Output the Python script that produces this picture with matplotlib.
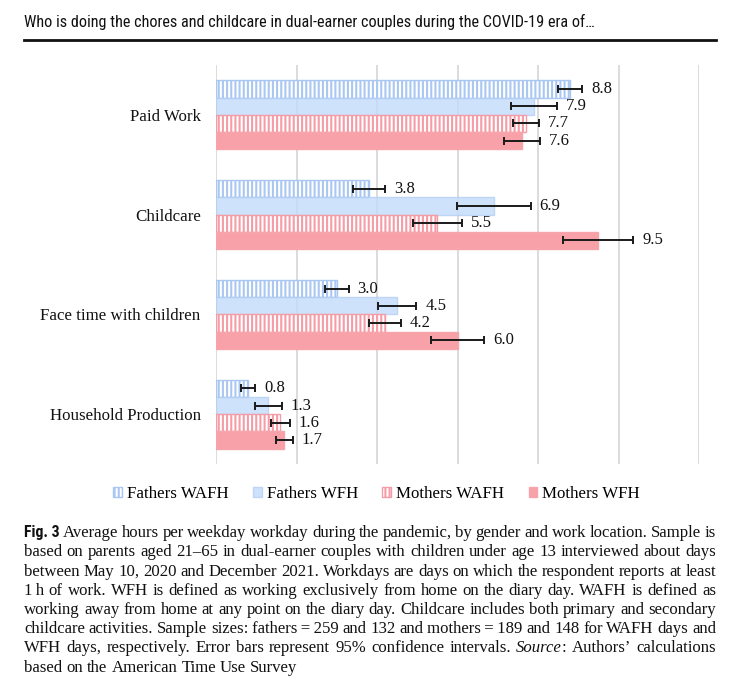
import matplotlib
matplotlib.use("Agg")
import matplotlib.pyplot as plt
from matplotlib.patches import Patch
from matplotlib import font_manager
import numpy as np

# ---------------- data ----------------
categories = ["Paid Work", "Childcare", "Face time with children", "Household Production"]
series_names = ["Fathers WAFH", "Fathers WFH", "Mothers WAFH", "Mothers WFH"]

fathers_wafh = [8.8, 3.8, 3.0, 0.8]
fathers_wfh = [7.9, 6.9, 4.5, 1.3]
mothers_wafh = [7.7, 5.5, 4.2, 1.6]
mothers_wfh = [7.6, 9.5, 6.0, 1.7]

fathers_wafh_ci = [0.30, 0.40, 0.30, 0.18]
fathers_wfh_ci = [0.57, 0.92, 0.48, 0.34]
mothers_wafh_ci = [0.33, 0.61, 0.40, 0.23]
mothers_wfh_ci = [0.44, 0.87, 0.67, 0.21]

x_ticks = [0, 2, 4, 6, 8, 10, 12]

header_text = "Who is doing the chores and childcare in dual-earner couples during the COVID-19 era of\u2026"

caption_lines = [
    "Fig. 3| Average hours per weekday workday during the pandemic, by gender and work location. Sample is",
    "based on parents aged 21\u201365 in dual-earner couples with children under age 13 interviewed about days",
    "between May 10, 2020 and December 2021. Workdays are days on which the respondent reports at least",
    "1\u2009h of work. WFH is defined as working exclusively from home on the diary day. WAFH is defined as",
    "working away from home at any point on the diary day. Childcare includes both primary and secondary",
    "childcare activities. Sample sizes: fathers\u2009=\u2009259 and 132 and mothers\u2009=\u2009189 and 148 for WAFH days and",
    "WFH days, respectively. Error bars represent 95% confidence intervals. *Source*: Authors\u2019 calculations",
    "based on the American Time Use Survey",
]

# ---------------- fonts ----------------
available = {f.name for f in font_manager.fontManager.ttflist}
SERIF = "Liberation Serif" if "Liberation Serif" in available else "DejaVu Serif"
NARROW = "DejaVu Sans"
NARROW_STRETCH = "condensed"
for cand in ["Liberation Sans Narrow", "Roboto Condensed", "Open Sans Condensed"]:
    if cand in available:
        NARROW = cand
        NARROW_STRETCH = "normal"
        break

plt.rcParams["hatch.linewidth"] = 1.5

W, H = 740, 680
fig = plt.figure(figsize=(W / 100, H / 100), dpi=100)
fig.patch.set_facecolor("white")
renderer = fig.canvas.get_renderer()


def px_x(x):
    return x / W


def px_y(y):
    return 1 - y / H


# ---------------- header ----------------
LEFT, RIGHT = 24, 716
hdr = fig.text(px_x(LEFT), px_y(22), header_text, family=NARROW, stretch=NARROW_STRETCH,
               fontsize=11, va="center", ha="left", color="#111111")
wid = hdr.get_window_extent(renderer).width
hdr.set_fontsize(11 * 574 / wid)
fig.add_artist(plt.Line2D([px_x(LEFT), px_x(RIGHT)], [px_y(40), px_y(40)],
                          color="#111111", lw=2.0, transform=fig.transFigure))

# ---------------- chart ----------------
ax = fig.add_axes([px_x(216), px_y(464), (699 - 216) / W, (464 - 65) / H])
ax.set_xlim(x_ticks[0], x_ticks[-1])
ax.set_ylim(len(categories) - 0.5, -0.5)
for s in ax.spines.values():
    s.set_visible(False)
for xt in x_ticks:
    ax.axvline(xt, color="#d9d9d9", lw=1.3, zorder=0)

blue_edge = "#a9c7f2"
blue_fill = "#c3dbfa"
pink_edge = "#f59ca6"
pink_fill = "#f8a1a9"

styles = [
    dict(facecolor="white", edgecolor=blue_edge, hatch="||||", alpha=1.0),
    dict(facecolor=blue_fill, edgecolor="#b4cff4", hatch=None, alpha=0.8),
    dict(facecolor="white", edgecolor=pink_edge, hatch="||||", alpha=1.0),
    dict(facecolor=pink_fill, edgecolor="#f7a5ad", hatch=None, alpha=1.0),
]
values = [fathers_wafh, fathers_wfh, mothers_wafh, mothers_wfh]
cis = [fathers_wafh_ci, fathers_wfh_ci, mothers_wafh_ci, mothers_wfh_ci]

bh = 0.1725
ypos = np.arange(len(categories))
for j, (vals, ci, st) in enumerate(zip(values, cis, styles)):
    yy = ypos + (j - 1.5) * bh
    ax.barh(yy, vals, height=bh, facecolor=st["facecolor"], edgecolor=st["edgecolor"],
            hatch=st["hatch"], linewidth=1.0, alpha=st["alpha"], zorder=2)
    ax.errorbar(vals, yy, xerr=ci, fmt="none", ecolor="#1a1a1a", elinewidth=1.4,
                capsize=2.8, capthick=1.4, zorder=4)
    for v, c, y in zip(vals, ci, yy):
        ax.text(v + c + 0.22, y, f"{v:.1f}", family=SERIF, fontsize=12, va="center",
                ha="left", color="#111111", zorder=5)

ax.set_xticks([])
ax.set_yticks(ypos)
ax.set_yticklabels(categories, family=SERIF, fontsize=12.2, color="#111111")
ax.tick_params(axis="y", length=0, pad=11)

handles = [Patch(facecolor=st["facecolor"], edgecolor=st["edgecolor"], hatch=st["hatch"],
                 linewidth=1.0, alpha=st["alpha"]) for st in styles]
fig.legend(handles, series_names, loc="center", bbox_to_anchor=(px_x(376.5), px_y(494)),
           ncol=4, frameon=False, prop=dict(family=SERIF, size=12.2),
           handlelength=0.5, handleheight=0.6, handletextpad=0.3, columnspacing=1.45)

# ---------------- caption (justified) ----------------
def tokenize(line):
    toks = []
    if "|" in line:
        head, rest = line.split("|", 1)
        toks.append([(head, "figbold")])
        line = rest.strip()
    for w in line.split(" "):
        if w.startswith("*Source*"):
            toks.append([("Source", "italic"), (w[len("*Source*"):], "normal")])
        else:
            toks.append([(w, "normal")])
    return toks


def make_text(x, y, s, style, size):
    kw = dict(family=SERIF, fontsize=size, va="baseline", ha="left", color="#111111")
    if style == "italic":
        kw["style"] = "italic"
    if style == "figbold":
        kw = dict(family=NARROW, stretch=NARROW_STRETCH, weight="bold", fontsize=size * 0.95,
                  va="baseline", ha="left", color="#111111")
    return fig.text(x, y, s, **kw)


def seg_width(s, style, size):
    t = make_text(0, 0, s, style, size)
    w = t.get_window_extent(renderer).width
    t.remove()
    return w


base = 12.0
space_w = seg_width("a a", "normal", base) - seg_width("aa", "normal", base)
ratios = []
tokens_all = [tokenize(l) for l in caption_lines]
for i, toks in enumerate(tokens_all[:-1]):
    tw = sum(seg_width(s, st, base) for tok in toks for s, st in tok)
    nat = tw + (len(toks) - 1) * space_w * 0.8
    ratios.append((RIGHT - LEFT) / nat)
size = base * min(ratios) * 0.998

first_base = 537
lead = 19.25
for i, toks in enumerate(tokens_all):
    yb = first_base + i * lead
    widths = [[seg_width(s, st, size) for s, st in tok] for tok in toks]
    total = sum(sum(w) for w in widths)
    if i < len(tokens_all) - 1:
        gap = (RIGHT - LEFT - total) / (len(toks) - 1)
    else:
        gap = space_w * size / base
    x = LEFT
    for tok, ws in zip(toks, widths):
        xx = x
        for (s, st), w in zip(tok, ws):
            make_text(px_x(xx), px_y(yb), s, st, size)
            xx += w
        x = xx + gap

fig.savefig("out.png", dpi=100, facecolor="white")
